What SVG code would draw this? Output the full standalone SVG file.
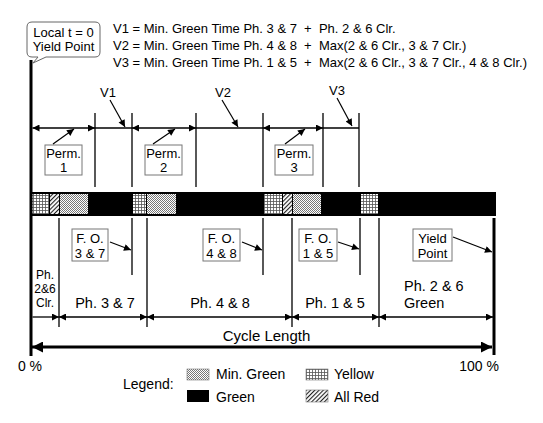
<svg xmlns="http://www.w3.org/2000/svg" width="543" height="423" viewBox="0 0 543 423">
<style>
text{font-family:"Liberation Sans",Arial,Helvetica,sans-serif;fill:#000}
.eq{font-size:13px}
.lbl{font-size:13px;text-anchor:middle}
.ph{font-size:14.5px;text-anchor:middle}
.sm{font-size:12px;text-anchor:middle}
.lg{font-size:14px}
.box{fill:#fff;stroke:#777;stroke-width:1}
.tick{stroke:#000;stroke-width:1.3;fill:none}
.dim{stroke:#000;stroke-width:1.3;fill:none}
.da{marker-start:url(#ah);marker-end:url(#ah)}
.ea{marker-end:url(#ah)}
.ptr{stroke:#000;stroke-width:1.2;fill:none;marker-end:url(#ap)}
</style>
<defs>
<marker id="ah" viewBox="0 0 10 10" refX="10" refY="5" markerWidth="9" markerHeight="7" markerUnits="userSpaceOnUse" orient="auto-start-reverse"><path d="M0,0 L10,5 L0,10 Z" fill="#000"/></marker>
<marker id="ap" viewBox="0 0 10 10" refX="10" refY="5" markerWidth="10" markerHeight="7" markerUnits="userSpaceOnUse" orient="auto"><path d="M0,0 L10,5 L0,10 Z" fill="#000"/></marker>
<marker id="big" viewBox="0 0 10 10" refX="10" refY="5" markerWidth="16" markerHeight="11" markerUnits="userSpaceOnUse" orient="auto-start-reverse"><path d="M0,0 L10,5 L0,10 Z" fill="#000"/></marker>
<pattern id="pY" width="3" height="3" patternUnits="userSpaceOnUse"><rect width="3" height="3" fill="#fff"/><rect width="3" height="0.8" fill="#555"/><rect width="0.8" height="3" fill="#555"/></pattern>
<pattern id="pM" width="2" height="2" patternUnits="userSpaceOnUse"><rect width="2" height="2" fill="#fff"/><rect width="1" height="1" fill="#777"/><rect x="1" y="1" width="1" height="1" fill="#777"/></pattern>
<pattern id="pR" width="3" height="3" patternUnits="userSpaceOnUse" patternTransform="rotate(45)"><rect width="3" height="3" fill="#fff"/><rect width="1.1" height="3" fill="#222"/></pattern>
</defs>
<rect width="543" height="423" fill="#fff"/>

<g id="callout">
<path d="M32,22 H95 Q100,22 100,27 V52 Q100,57 95,57 H46 L33,63 L38,57 H32 Q27,57 27,52 V27 Q27,22 32,22 Z" fill="#fff" stroke="#666" stroke-width="1"/>
<text class="lbl" x="63.5" y="37">Local t = 0</text>
<text class="lbl" x="63.5" y="51">Yield Point</text>
</g>

<g id="equations">
<text class="eq" x="113" y="33" xml:space="preserve">V1 = Min. Green Time Ph. 3 &amp; 7  +  Ph. 2 &amp; 6 Clr.</text>
<text class="eq" x="113" y="50" xml:space="preserve">V2 = Min. Green Time Ph. 4 &amp; 8  +  Max(2 &amp; 6 Clr., 3 &amp; 7 Clr.)</text>
<text class="eq" x="113" y="67" xml:space="preserve">V3 = Min. Green Time Ph. 1 &amp; 5  +  Max(2 &amp; 6 Clr., 3 &amp; 7 Clr., 4 &amp; 8 Clr.)</text>
</g>

<g id="signal-bar">
<rect x="31" y="192" width="465" height="24" fill="#000"/>
<rect x="32" y="194" width="17" height="20" fill="url(#pY)"/>
<rect x="50" y="194" width="9" height="20" fill="url(#pR)"/>
<rect x="60" y="194" width="28" height="20" fill="url(#pM)"/>
<rect x="133" y="194" width="13" height="20" fill="url(#pY)"/>
<rect x="147" y="194" width="29" height="20" fill="url(#pM)"/>
<rect x="264" y="194" width="18" height="20" fill="url(#pY)"/>
<rect x="283" y="194" width="9" height="20" fill="url(#pR)"/>
<rect x="293" y="194" width="28" height="20" fill="url(#pM)"/>
<rect x="361" y="194" width="17" height="20" fill="url(#pY)"/>
</g>

<g id="perm1"><rect class="box" x="45" y="145" width="37" height="30"/><text class="lbl" x="63.5" y="158">Perm.</text><text class="lbl" x="63.5" y="172">1</text></g>
<g id="perm2"><rect class="box" x="145" y="145" width="37" height="30"/><text class="lbl" x="163.5" y="158">Perm.</text><text class="lbl" x="163.5" y="172">2</text></g>
<g id="perm3"><rect class="box" x="275" y="145" width="38" height="30"/><text class="lbl" x="294" y="158">Perm.</text><text class="lbl" x="294" y="172">3</text></g>

<g id="fo37"><rect class="box" x="72" y="229" width="36" height="32"/><text class="lbl" x="90" y="243">F. O.</text><text class="lbl" x="90" y="258">3 &amp; 7</text></g>
<g id="fo48"><rect class="box" x="203" y="229" width="37" height="32"/><text class="lbl" x="221.5" y="243">F. O.</text><text class="lbl" x="221.5" y="258">4 &amp; 8</text></g>
<g id="fo15"><rect class="box" x="299" y="229" width="38" height="32"/><text class="lbl" x="318" y="243">F. O.</text><text class="lbl" x="318" y="258">1 &amp; 5</text></g>
<g id="yield"><rect class="box" x="413" y="229" width="39" height="32"/><text class="lbl" x="432.5" y="243">Yield</text><text class="lbl" x="432.5" y="258">Point</text></g>

<g id="v-labels">
<text class="lbl" x="108" y="97">V1</text>
<text class="lbl" x="223" y="97">V2</text>
<text class="lbl" x="337" y="95">V3</text>
</g>

<g id="phase-labels">
<text class="sm" x="45" y="279">Ph.</text>
<text class="sm" x="45" y="293">2&amp;6</text>
<text class="sm" x="45" y="307">Clr.</text>
<text class="ph" x="105" y="308">Ph. 3 &amp; 7</text>
<text class="ph" x="220" y="308">Ph. 4 &amp; 8</text>
<text class="ph" x="335" y="308">Ph. 1 &amp; 5</text>
<text class="ph" x="404" y="291" style="text-anchor:start">Ph. 2 &amp; 6</text>
<text class="ph" x="404" y="308" style="text-anchor:start">Green</text>
<text x="266.5" y="341" style="font-size:15px;text-anchor:middle">Cycle Length</text>
<text x="30" y="371" style="font-size:14px;text-anchor:middle">0 %</text>
<text x="479" y="371" style="font-size:14px;text-anchor:middle">100 %</text>
</g>

<g id="legend">
<text class="lg" x="123" y="389">Legend:</text>
<rect x="187" y="369" width="22" height="11" fill="url(#pM)" stroke="#777" stroke-width="0.6"/>
<text class="lg" x="216" y="379">Min. Green</text>
<rect x="187" y="390" width="22" height="12" fill="#000"/>
<text class="lg" x="216" y="402">Green</text>
<rect x="306" y="369" width="22" height="11" fill="url(#pY)" stroke="#777" stroke-width="0.6"/>
<text class="lg" x="334" y="379">Yellow</text>
<rect x="306" y="390" width="22" height="12" fill="url(#pR)" stroke="#777" stroke-width="0.6"/>
<text class="lg" x="334" y="402">All Red</text>
</g>

<g id="connectors">
<line x1="31" y1="60" x2="31" y2="356" stroke="#000" stroke-width="3"/>
<line x1="494" y1="218" x2="494" y2="355" stroke="#000" stroke-width="3"/>
<path class="tick" d="M95,113V187 M132,113V187 M196,113V187 M263,113V187 M323,113V187 M359,113V187"/>
<path class="tick" d="M59,218V327 M147,218V327 M292,218V327 M379,218V327 M132,218V275 M263,218V275 M360,218V275"/>
<line class="dim da" x1="32.5" y1="128" x2="95" y2="128"/>
<line class="dim" x1="95" y1="128" x2="132" y2="128"/>
<line class="dim da" x1="132" y1="128" x2="196" y2="128"/>
<line class="dim" x1="196" y1="128" x2="263" y2="128"/>
<line class="dim da" x1="263" y1="128" x2="323" y2="128"/>
<line class="dim" x1="323" y1="128" x2="359" y2="128"/>
<line class="ptr" x1="110" y1="100" x2="125" y2="127"/>
<line class="ptr" x1="222" y1="100" x2="238" y2="127"/>
<line class="ptr" x1="337" y1="98" x2="352" y2="126"/>
<line class="ptr" x1="53" y1="144" x2="74" y2="129"/>
<line class="ptr" x1="153" y1="144" x2="175" y2="129"/>
<line class="ptr" x1="285" y1="144" x2="305" y2="129"/>
<line class="ptr" x1="110" y1="242" x2="131" y2="250"/>
<line class="ptr" x1="242" y1="242" x2="262" y2="250"/>
<line class="ptr" x1="338" y1="242" x2="359" y2="249"/>
<line class="ptr" x1="453" y1="237" x2="492" y2="252"/>
<line class="dim ea" x1="32.5" y1="317" x2="59" y2="317"/>
<line class="dim da" x1="59" y1="317" x2="147" y2="317"/>
<line class="dim da" x1="147" y1="317" x2="292" y2="317"/>
<line class="dim da" x1="292" y1="317" x2="379" y2="317"/>
<line class="dim da" x1="379" y1="317" x2="493" y2="317"/>
<line x1="32" y1="347" x2="492" y2="347" stroke="#000" stroke-width="3" marker-start="url(#big)" marker-end="url(#big)"/>
</g>
</svg>
